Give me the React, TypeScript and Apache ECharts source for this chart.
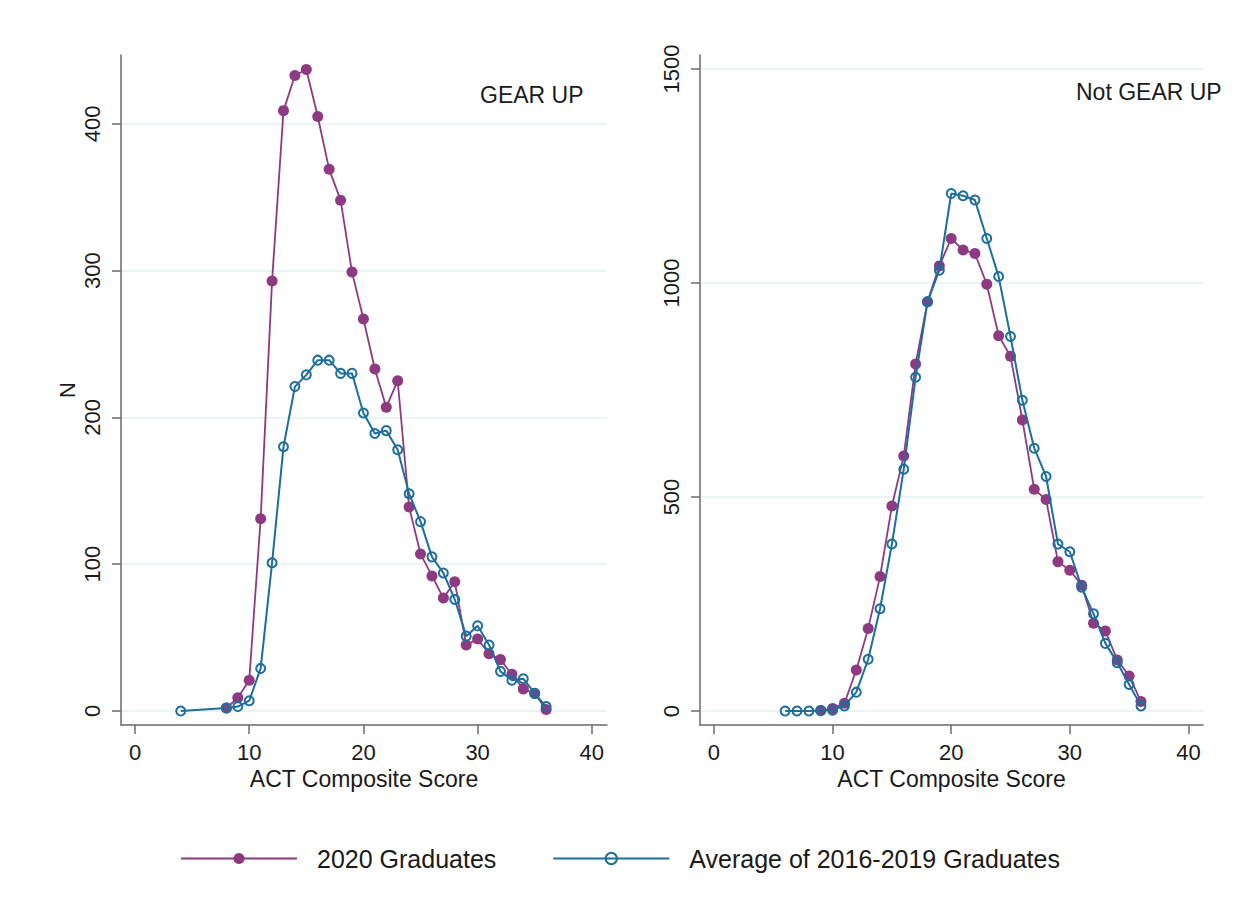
import React, { useEffect, useRef } from "react";
import * as echarts from "echarts";

// ---- Data ----
const gearUpScores2020 = [8, 9, 10, 11, 12, 13, 14, 15, 16, 17, 18, 19, 20, 21, 22, 23, 24, 25, 26, 27, 28, 29, 30, 31, 32, 33, 34, 35, 36];
const gearUpValues2020 = [2, 9, 21, 131, 293, 409, 433, 437, 405, 369, 348, 299, 267, 233, 207, 225, 139, 107, 92, 77, 88, 45, 49, 39, 35, 25, 15, 12, 1];

const gearUpScoresAvg = [4, 8, 9, 10, 11, 12, 13, 14, 15, 16, 17, 18, 19, 20, 21, 22, 23, 24, 25, 26, 27, 28, 29, 30, 31, 32, 33, 34, 35, 36];
const gearUpValuesAvg = [0, 2, 3, 7, 29, 101, 180, 221, 229, 239, 239, 230, 230, 203, 189, 191, 178, 148, 129, 105, 94, 76, 51, 58, 45, 27, 21, 22, 12, 3];

const notGearUpScores2020 = [9, 10, 11, 12, 13, 14, 15, 16, 17, 18, 19, 20, 21, 22, 23, 24, 25, 26, 27, 28, 29, 30, 31, 32, 33, 34, 35, 36];
const notGearUpValues2020 = [1, 6, 18, 96, 193, 314, 479, 596, 811, 956, 1040, 1104, 1077, 1069, 997, 877, 829, 680, 518, 494, 349, 329, 294, 205, 187, 119, 82, 22];

const notGearUpScoresAvg = [6, 7, 8, 9, 10, 11, 12, 13, 14, 15, 16, 17, 18, 19, 20, 21, 22, 23, 24, 25, 26, 27, 28, 29, 30, 31, 32, 33, 34, 35, 36];
const notGearUpValuesAvg = [0, 0, 0, 1, 2, 12, 44, 121, 239, 390, 565, 780, 956, 1030, 1209, 1204, 1194, 1104, 1015, 875, 726, 614, 548, 390, 372, 289, 227, 158, 113, 62, 12];

const xTicks = [0, 10, 20, 30, 40];
const yTicksGearUp = [0, 100, 200, 300, 400];
const yTicksNotGearUp = [0, 500, 1000, 1500];

const seriesNames = ["2020 Graduates", "Average of 2016-2019 Graduates"];
const panelTitles = ["GEAR UP", "Not GEAR UP"];
const xAxisTitle = "ACT Composite Score";
const yAxisTitle = "N";

// ---- Styles ----
const PURPLE = "#8e3a82";
const BLUE = "#1c6e9c";
const AXIS = "#6b6b6b";
const GRIDLINE = "#e6eff1";
const FONT = "'Liberation Sans', Arial, sans-serif";
const TEXT = "#1a1a1a";

const zip = (xs: number[], ys: number[]) => xs.map((x, i) => [x, ys[i]]);
const plain = (v: number) => String(v);

function makeXAxis(gridIndex: number, min: number, max: number) {
  return {
    type: "value",
    gridIndex,
    min,
    max,
    name: xAxisTitle,
    nameLocation: "middle",
    nameGap: 40,
    nameTextStyle: { fontSize: 23, color: TEXT, fontFamily: FONT },
    axisLine: { show: true, onZero: false, lineStyle: { color: AXIS, width: 1.5 } },
    axisTick: { show: true, length: 9, customValues: xTicks, lineStyle: { color: AXIS, width: 1.5 } },
    axisLabel: { customValues: xTicks, formatter: plain, fontSize: 22, color: TEXT, fontFamily: FONT, margin: 16 },
    splitLine: { show: false },
  };
}

function makeYAxis(gridIndex: number, min: number, max: number, ticks: number[], withName: boolean) {
  return {
    type: "value",
    gridIndex,
    min,
    max,
    name: withName ? yAxisTitle : "",
    nameLocation: "middle",
    nameRotate: 90,
    nameGap: 43,
    nameTextStyle: { fontSize: 22, color: TEXT, fontFamily: FONT },
    axisLine: { show: true, onZero: false, lineStyle: { color: AXIS, width: 1.5 } },
    axisTick: { show: true, length: 9, customValues: ticks, lineStyle: { color: AXIS, width: 1.5 } },
    axisLabel: { customValues: ticks, formatter: plain, rotate: 90, fontSize: 22, color: TEXT, fontFamily: FONT, margin: 18 },
    splitLine: { show: true, lineStyle: { color: GRIDLINE, width: 1.5 } },
  };
}

function filledSeries(name: string, data: number[][], idx: number) {
  return {
    name,
    type: "line",
    xAxisIndex: idx,
    yAxisIndex: idx,
    data,
    symbol: "circle",
    symbolSize: 11,
    showAllSymbol: true,
    lineStyle: { color: PURPLE, width: 1.8 },
    itemStyle: { color: PURPLE },
    z: 2,
  };
}

function hollowSeries(name: string, data: number[][], idx: number) {
  return {
    name,
    type: "line",
    xAxisIndex: idx,
    yAxisIndex: idx,
    data,
    symbol: "circle",
    symbolSize: 9,
    showAllSymbol: true,
    lineStyle: { color: BLUE, width: 2 },
    itemStyle: { color: "rgba(255,255,255,0)", borderColor: BLUE, borderWidth: 2 },
    z: 3,
  };
}

export default function App() {
  const ref = useRef<HTMLDivElement>(null);

  useEffect(() => {
    if (!ref.current) return;
    const chart = echarts.init(ref.current, undefined, { renderer: "svg" });
    chart.setOption({
      animation: false,
      backgroundColor: "#ffffff",
      grid: [
        { left: 121, top: 55, width: 486, height: 670 },
        { left: 700, top: 55, width: 503, height: 670 },
      ],
      xAxis: [makeXAxis(0, -1.23, 41.33), makeXAxis(1, -1.18, 41.23)],
      yAxis: [
        makeYAxis(0, -9.54, 446.9, yTicksGearUp, true),
        makeYAxis(1, -32.7, 1532.7, yTicksNotGearUp, false),
      ],
      legend: {
        left: 180,
        top: 846,
        padding: 0,
        itemWidth: 116,
        itemHeight: 14,
        itemGap: 56,
        data: seriesNames,
        textStyle: { fontSize: 25, color: TEXT, fontFamily: FONT, padding: [0, 0, 0, 15] },
      },
      graphic: [
        { type: "text", left: 480, top: 83, style: { text: panelTitles[0], fontSize: 23, fill: TEXT, fontFamily: FONT } },
        { type: "text", left: 1076, top: 80, style: { text: panelTitles[1], fontSize: 23, fill: TEXT, fontFamily: FONT } },
      ],
      series: [
        filledSeries(seriesNames[0], zip(gearUpScores2020, gearUpValues2020), 0),
        hollowSeries(seriesNames[1], zip(gearUpScoresAvg, gearUpValuesAvg), 0),
        filledSeries(seriesNames[0], zip(notGearUpScores2020, notGearUpValues2020), 1),
        hollowSeries(seriesNames[1], zip(notGearUpScoresAvg, notGearUpValuesAvg), 1),
      ],
    });
    return () => chart.dispose();
  }, []);

  return (
    <div
      ref={ref}
      style={{ position: "absolute", left: 0, top: 0, width: 1244, height: 913, background: "#fff" }}
    />
  );
}
